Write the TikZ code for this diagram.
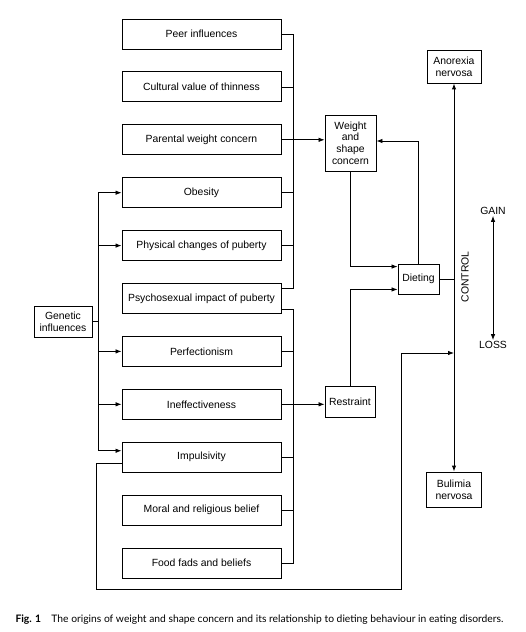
\documentclass[tikz,border=0pt]{standalone}
\usepackage{fontspec}
\setmainfont{Liberation Sans}
\newfontfamily\capfont{Lato}
\usetikzlibrary{arrows.meta}

\tikzset{
    box/.style={draw, line width=0.9pt, minimum width=159pt, minimum height=30pt, inner sep=0pt, font=\fontsize{10.4}{12}\selectfont},
    smallbox/.style={draw, line width=0.9pt, align=center, inner sep=0pt, font=\fontsize{10.4}{11.8}\selectfont},
    label/.style={font=\fontsize{10.4}{12}\selectfont, inner sep=1pt},
    link/.style={line width=0.8pt},
    arr/.style={line width=0.8pt, -{Latex[length=6pt,width=4.5pt]}},
    arrs/.style={line width=0.8pt, {Latex[length=6pt,width=4.5pt]}-{Latex[length=6pt,width=4.5pt]}},
}

\begin{document}
\begin{tikzpicture}[x=1pt, y=-1pt]
    \useasboundingbox (0,0) rectangle (525,632);

    % factors, left column
    \node [box] (peer)   at (201.5, 34.0) {Peer influences};
    \node [box] (cult)   at (201.5, 86.9) {Cultural value of thinness};
    \node [box] (parent) at (201.5,139.8) {Parental weight concern};
    \node [box] (obes)   at (201.5,192.7) {Obesity};
    \node [box] (phys)   at (201.5,245.6) {Physical changes of puberty};
    \node [box] (psych)  at (201.5,298.5) {Psychosexual impact of puberty};
    \node [box] (perf)   at (201.5,351.4) {Perfectionism};
    \node [box] (ineff)  at (201.5,404.3) {Ineffectiveness};
    \node [box] (impuls) at (201.5,457.2) {Impulsivity};
    \node [box] (moral)  at (201.5,510.1) {Moral and religious belief};
    \node [box] (fads)   at (201.5,563.0) {Food fads and beliefs};

    \node [smallbox, minimum width=58pt, minimum height=31pt] (gen)    at ( 63.0,321.5) {Genetic\\influences};
    \node [smallbox, minimum width=51pt, minimum height=56pt] (weight) at (350.5,143.0) {Weight\\and\\shape\\concern};
    \node [smallbox, minimum width=50pt, minimum height=31pt] (restr)  at (350.0,401.5) {Restraint};
    \node [smallbox, minimum width=41pt, minimum height=30pt] (diet)   at (418.5,279.0) {Dieting};
    \node [smallbox, minimum width=54pt, minimum height=33pt] (anor)   at (454.0, 66.5) {Anorexia\\nervosa};
    \node [smallbox, minimum width=55pt, minimum height=35pt] (bul)    at (454.0,489.5) {Bulimia\\nervosa};

    \node [label, rotate=90] (ctrl) at (465,277) {CONTROL};
    \node [label] (gain) at (493,211) {GAIN};
    \node [label] (loss) at (493,345) {LOSS};

    \node (cap) at (259.5,620) {\capfont\fontsize{10.3}{12}\selectfont{\bfseries Fig. 1}\quad The origins of weight and shape concern and its relationship to dieting behaviour in eating disorders.};

    \coordinate (busR)   at (293,0);
    \coordinate (busL)   at (98,0);
    \coordinate (loopL)  at (96,589);
    \coordinate (loopR)  at (401,589);
    \coordinate (bjoin)  at (454,353);
    \coordinate (psyTop) at ([yshift=-5pt]psych.north east);
    \coordinate (psyBot) at ([yshift=5pt]psych.south east);
    \coordinate (impTop) at ([yshift=-9pt]impuls.north west);
    \coordinate (impBot) at ([yshift=9pt]impuls.south west);
    \coordinate (dietTop) at ([yshift=-3pt]diet.north west);
    \coordinate (dietBot) at ([yshift=5pt]diet.south west);

    % upper bus
    \draw [link] (peer.east) -- (peer.east -| busR) -- (psyTop -| busR) -- (psyTop);
    \draw [link] (cult.east) -- (cult.east -| busR);
    \draw [link] (obes.east) -- (obes.east -| busR);
    \draw [link] (phys.east) -- (phys.east -| busR);
    \draw [arr] (parent.east) -- (parent.east -| weight.west);

    % lower bus
    \draw [link] (psyBot) -- (psyBot -| busR) -- (fads.east -| busR) -- (fads.east);
    \draw [link] (perf.east) -- (perf.east -| busR);
    \draw [link] (impuls.east) -- (impuls.east -| busR);
    \draw [link] (moral.east) -- (moral.east -| busR);
    \draw [arr] (ineff.east) -- (ineff.east -| restr.west);

    % genetic influences
    \draw [link] (gen.east) -- (gen.east -| busL);
    \draw [link] (obes.west -| busL) -- (impTop -| busL);
    \draw [arr] (obes.west -| busL) -- (obes.west);
    \draw [arr] (phys.west -| busL) -- (phys.west);
    \draw [arr] (perf.west -| busL) -- (perf.west);
    \draw [arr] (ineff.west -| busL) -- (ineff.west);
    \draw [arr] (impTop -| busL) -- (impTop);

    % impulsivity to control
    \draw [arr] (impBot) -| (loopL) -- (loopR) |- (bjoin);

    % dieting loop
    \draw [arr] (weight.south) |- (dietTop);
    \draw [arr] (restr.north) |- (dietBot);
    \draw [arr] (diet.north) |- ([yshift=2pt]weight.east);
    \draw [link] (diet.east) -- (diet.east -| anor.south);

    % control axis
    \draw [arrs, line width=1pt] (anor.south) -- (bul.north);
    \draw [arrs] (gain.south) -- (loss.north);
\end{tikzpicture}
\end{document}
